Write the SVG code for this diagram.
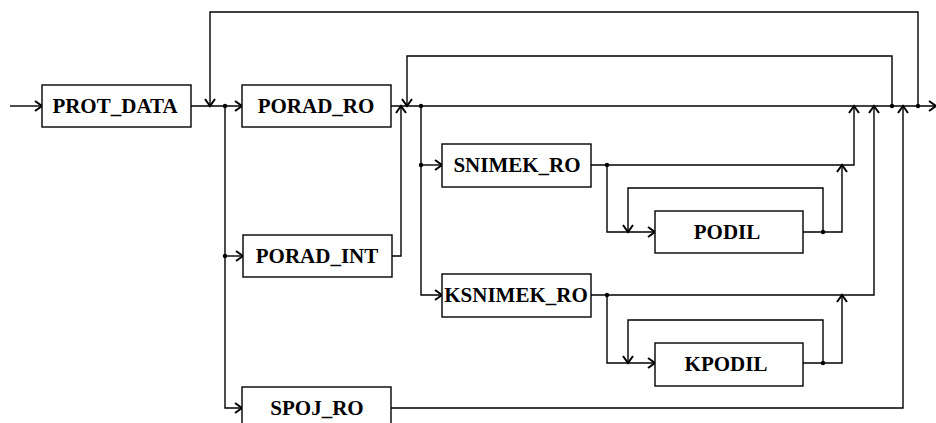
<svg xmlns="http://www.w3.org/2000/svg" width="936" height="423" viewBox="0 0 936 423">
<style>
.box{fill:#fff;stroke:#000;stroke-width:1.4}
.lbl{font-family:"Liberation Serif","Times New Roman",serif;font-weight:bold;font-size:21px;fill:#000;text-anchor:middle}
.ln{fill:none;stroke:#000;stroke-width:1.4}
.dot{fill:#000}
</style>
<defs>
<marker id="ar" markerUnits="userSpaceOnUse" markerWidth="12" markerHeight="12" refX="9" refY="6" orient="auto" viewBox="0 0 12 12">
<path d="M2,1 L9,6 L2,11" fill="none" stroke="#000" stroke-width="2"/>
</marker>
</defs>
<rect width="936" height="423" fill="#fff"/>
<g id="connectors">
<path class="ln" d="M10,106 H42" marker-end="url(#ar)"/>
<path class="ln" d="M191,106 H242" marker-end="url(#ar)"/>
<path class="ln" d="M918,106 V12 H210 V106" marker-end="url(#ar)"/>
<path class="ln" d="M225,106 V408 H242" marker-end="url(#ar)"/>
<path class="ln" d="M225,256 H243" marker-end="url(#ar)"/>
<path class="ln" d="M391,106 H936" marker-end="url(#ar)"/>
<path class="ln" d="M392,256 H401 V106" marker-end="url(#ar)"/>
<path class="ln" d="M892,106 V56 H407 V106" marker-end="url(#ar)"/>
<path class="ln" d="M421,106 V295 H442" marker-end="url(#ar)"/>
<path class="ln" d="M421,165 H442" marker-end="url(#ar)"/>
<path class="ln" d="M591,165 H854 V106" marker-end="url(#ar)"/>
<path class="ln" d="M607,165 V232 H655" marker-end="url(#ar)"/>
<path class="ln" d="M823,232 V188 H628 V232" marker-end="url(#ar)"/>
<path class="ln" d="M803,232 H842 V165" marker-end="url(#ar)"/>
<path class="ln" d="M591,295 H874 V106" marker-end="url(#ar)"/>
<path class="ln" d="M607,295 V363 H655" marker-end="url(#ar)"/>
<path class="ln" d="M823,363 V320 H628 V363" marker-end="url(#ar)"/>
<path class="ln" d="M803,363 H842 V295" marker-end="url(#ar)"/>
<path class="ln" d="M391,408 H903 V106" marker-end="url(#ar)"/>
<circle class="dot" cx="225" cy="106" r="2.2"/>
<circle class="dot" cx="892" cy="106" r="2.2"/>
<circle class="dot" cx="918" cy="106" r="2.2"/>
<circle class="dot" cx="421" cy="106" r="2.2"/>
<circle class="dot" cx="225" cy="256" r="2.2"/>
<circle class="dot" cx="421" cy="165" r="2.2"/>
<circle class="dot" cx="607" cy="165" r="2.2"/>
<circle class="dot" cx="823" cy="232" r="2.2"/>
<circle class="dot" cx="607" cy="295" r="2.2"/>
<circle class="dot" cx="823" cy="363" r="2.2"/>
</g>
<g id="prot_data"><rect class="box" x="42" y="85" width="149" height="42"/><text class="lbl" x="115" y="113">PROT_DATA</text></g>
<g id="porad_ro"><rect class="box" x="242" y="85" width="149" height="42"/><text class="lbl" x="316" y="113">PORAD_RO</text></g>
<g id="porad_int"><rect class="box" x="243" y="235" width="149" height="42"/><text class="lbl" x="317" y="263">PORAD_INT</text></g>
<g id="spoj_ro"><rect class="box" x="242" y="387" width="149" height="42"/><text class="lbl" x="317" y="415">SPOJ_RO</text></g>
<g id="snimek_ro"><rect class="box" x="442" y="144" width="149" height="43"/><text class="lbl" x="517" y="172">SNIMEK_RO</text></g>
<g id="ksnimek_ro"><rect class="box" x="442" y="274" width="149" height="43"/><text class="lbl" x="516" y="302">KSNIMEK_RO</text></g>
<g id="podil"><rect class="box" x="655" y="211" width="148" height="42"/><text class="lbl" x="727" y="239">PODIL</text></g>
<g id="kpodil"><rect class="box" x="655" y="343" width="148" height="43"/><text class="lbl" x="726" y="371">KPODIL</text></g>
</svg>
